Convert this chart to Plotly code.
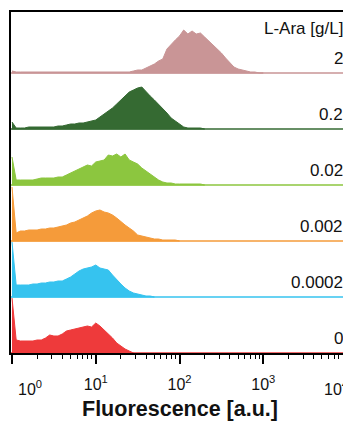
import plotly.graph_objects as go

# log10(fluorescence) bin positions (decades)
log_bins = [0.00, 0.05, 0.10, 0.15, 0.20, 0.25, 0.30, 0.35, 0.40, 0.45,
            0.50, 0.55, 0.60, 0.65, 0.70, 0.75, 0.80, 0.85, 0.90, 0.95,
            1.00, 1.05, 1.10, 1.15, 1.20, 1.25, 1.30, 1.35, 1.40, 1.45,
            1.50, 1.55, 1.60, 1.65, 1.70, 1.75, 1.80, 1.85, 1.90, 1.95,
            2.00, 2.05, 2.10, 2.15, 2.20, 2.25, 2.30, 2.35, 2.40, 2.45,
            2.50, 2.55, 2.60, 2.65, 2.70, 2.75, 2.80, 2.85, 2.90, 2.95, 3.00]

# concentrations (bottom to top)
concentrations = ["0", "0.0002", "0.002", "0.02", "0.2", "2"]
colors = ["#ee3a3b", "#36c3ef", "#f59b3a", "#8cc63f", "#356a32", "#c99596"]

# histogram counts (arbitrary units), per concentration
counts_0 = [55, 13, 12, 12, 12, 12, 13, 13, 15, 18,
            17, 17, 19, 22, 23, 24, 25, 26, 27, 26,
            30, 27, 23, 20, 15, 10, 7, 4, 2, 0]
counts_0_0002 = [55, 12, 12, 12, 12, 13, 13, 14, 14, 15,
                 15, 16, 16, 18, 20, 23, 26, 28, 29, 30,
                 32, 29, 28, 27, 22, 17, 13, 9, 6, 4,
                 3, 2, 1, 1, 0]
counts_0_002 = [54, 8, 10, 10, 11, 11, 11, 12, 12, 13,
                13, 14, 15, 16, 18, 19, 21, 23, 25, 28,
                30, 31, 29, 28, 26, 23, 19, 16, 13, 10,
                6, 5, 4, 3, 2, 2, 1, 1, 1, 1, 0]
counts_0_02 = [28, 5, 5, 5, 5, 5, 6, 7, 7, 7,
               7, 8, 8, 10, 12, 14, 16, 18, 20, 19,
               23, 24, 25, 30, 29, 31, 28, 31, 25, 23,
               21, 17, 14, 11, 8, 5, 3, 2, 2, 1,
               1, 1, 1, 1, 1, 1, 0]
counts_0_2 = [7, 1, 1, 1, 2, 2, 2, 2, 2, 2,
              2, 3, 3, 4, 5, 5, 6, 6, 7, 8,
              9, 12, 15, 18, 21, 25, 29, 33, 37, 39,
              41, 42, 37, 33, 29, 25, 20, 16, 11, 8,
              5, 2, 1, 1, 1, 1, 0]
counts_2 = [2, 1, 1, 1, 1, 1, 1, 1, 1, 1,
            1, 1, 1, 1, 1, 1, 1, 1, 1, 1,
            1, 1, 1, 1, 1, 1, 1, 1, 1, 2,
            3, 3, 5, 7, 9, 12, 14, 24, 29, 33,
            37, 43, 39, 42, 39, 40, 36, 32, 29, 25,
            20, 15, 10, 6, 4, 3, 2, 1, 1, 0, 0]

series = [counts_0, counts_0_0002, counts_0_002, counts_0_02, counts_0_2, counts_2]
ROW_SCALE = 56.0  # counts per ridge row
FONT = "Liberation Sans, Arial, sans-serif"

fig = go.Figure()
shapes = []
annotations = []
for k, (vals, col, lab) in enumerate(zip(series, colors, concentrations)):
    xs = [10 ** b for b in log_bins[:len(vals)]]
    ys = [k + v / ROW_SCALE for v in vals]
    fig.add_trace(go.Scatter(
        x=xs + [xs[-1], xs[0]],
        y=ys + [k, k],
        fill="toself", fillcolor=col,
        line=dict(color=col, width=1),
        mode="lines", hoverinfo="skip", showlegend=False))
    shapes.append(dict(type="line", xref="paper", x0=0, x1=1, yref="y", y0=k, y1=k,
                       line=dict(color=col, width=1.5), layer="above"))
    annotations.append(dict(xref="paper", x=1, xanchor="right", xshift=-4,
                            yref="y", y=k + 0.26, yanchor="middle",
                            text=lab, showarrow=False,
                            font=dict(family=FONT, size=17, color="#111")))

annotations.append(dict(xref="paper", x=1, xanchor="right", xshift=-4,
                        yref="y", y=5.80, yanchor="middle",
                        text="L-Ara [g/L]", showarrow=False,
                        font=dict(family=FONT, size=17, color="#111")))
# edge decade labels (kept inside the page, as in the original)
annotations.append(dict(xref="x", x=0, xanchor="center", xshift=18,
                        yref="paper", y=0, yanchor="top", yshift=-23,
                        text="10<sup>0</sup>", showarrow=False,
                        font=dict(family=FONT, size=16, color="#111")))
annotations.append(dict(xref="paper", x=1, xanchor="right", xshift=1,
                        yref="paper", y=0, yanchor="top", yshift=-23,
                        text="10<sup>4</sup>", showarrow=False,
                        font=dict(family=FONT, size=16, color="#111")))

major = [1, 10, 100, 1000, 10000]
minor_vals = [m * 10 ** d for d in range(4) for m in range(2, 10)]

# page body has an 8px margin -> figure sized to fill the rest of the window
fig.update_layout(
    width=343, height=415,
    margin=dict(l=3, r=0, t=4, b=70),
    plot_bgcolor="white", paper_bgcolor="white",
    shapes=shapes, annotations=annotations,
    xaxis=dict(type="log", range=[-0.0119, 4.0237],
               showline=True, linewidth=2, linecolor="black", mirror=True,
               showgrid=False, zeroline=False,
               ticks="outside", ticklen=9, tickwidth=2, tickcolor="black",
               tickvals=major,
               ticktext=[" ", "10<sup>1</sup>", "10<sup>2</sup>", "10<sup>3</sup>", " "],
               tickfont=dict(family=FONT, size=16, color="#111"),
               ticklabelstandoff=7,
               minor=dict(tickvals=minor_vals, ticks="outside", ticklen=4,
                          tickwidth=1, tickcolor="black", showgrid=False),
               title=dict(text="<b>Fluorescence [a.u.]</b>", standoff=9,
                          font=dict(family=FONT, size=21.5, color="#111"))),
    yaxis=dict(range=[0, 341 / 56.0], showline=True, linewidth=2, linecolor="black",
               mirror=True, showgrid=False, zeroline=False,
               showticklabels=False, ticks=""),
)

fig.write_html("out.html")
